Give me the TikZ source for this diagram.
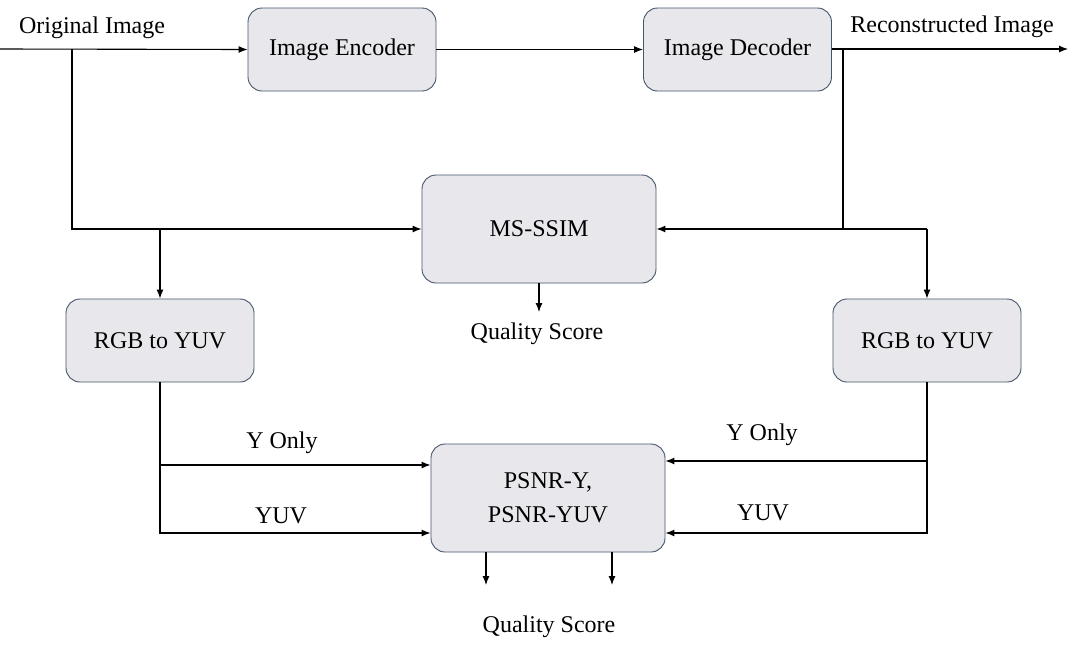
\documentclass[tikz,border=0pt]{standalone}
\usepackage{fontspec}
\setmainfont{Liberation Serif}
\usetikzlibrary{arrows.meta}

\definecolor{boxfill}{RGB}{232,232,236}
\definecolor{boxline}{RGB}{68,84,106}

\tikzset{
  every node/.style={font=\rmfamily\fontsize{24}{34}\selectfont},
  blk/.style={draw=boxline, fill=boxfill, rounded corners=14pt, line width=0.9pt,
              minimum width=188pt, minimum height=83pt, align=center},
  wideblk/.style={blk, minimum width=234pt, minimum height=108pt},
  wire/.style={line width=1.1pt, -{Latex[length=9pt,width=7pt]}},
  plain/.style={line width=1.1pt}
}

\begin{document}
\begin{tikzpicture}[x=1pt,y=-1pt]
\useasboundingbox (0,0) rectangle (1073,646);

% blocks
\node[blk] (enc) at (342,49.5) {Image Encoder};
\node[blk] (dec) at (737.5,49.5) {Image Decoder};
\node[wideblk] (ssim) at (539,229) {MS-SSIM};
\node[blk] (yuvL) at (160,340.5) {RGB to YUV};
\node[blk] (yuvR) at (927,340.5) {RGB to YUV};
\node[wideblk] (psnr) at (548,498) {PSNR-Y,\\PSNR-YUV};

% free ends and branch points
\coordinate (in) at (0,49);
\coordinate (out) at (1068,49);
\coordinate (splitL) at (72,49);
\coordinate (splitR) at (843,49);
\coordinate (tapL) at (160,229);
\coordinate (tapR) at (927,229);
\coordinate (cornR) at (843,229);
\coordinate (q1) at (539,312);
\coordinate (inYL) at ([yshift=33pt]psnr.west);
\coordinate (inUL) at ([yshift=-35pt]psnr.west);
\coordinate (inYR) at ([yshift=37pt]psnr.east);
\coordinate (inUR) at ([yshift=-35pt]psnr.east);
\coordinate (outA) at ([xshift=-62pt]psnr.south);
\coordinate (outB) at ([xshift=64pt]psnr.south);
\coordinate (endA) at (486,585);
\coordinate (endB) at (612,585);

% main path
\draw[wire] (in) -- (enc.west);
\draw[wire] (enc) -- (dec);
\draw[wire] (dec.east |- out) -- (out);
\node (orig) at (92,28) {Original Image};
\node (recon) at (952,27) {Reconstructed Image};

% MS-SSIM
\draw[wire] (splitL) |- (ssim.west);
\draw[wire] (splitR) |- (ssim.east);
\draw[plain] (cornR) -- (tapR);
\draw[wire] (ssim.south) -- (q1);
\node (qs1) at (537,334) {Quality Score};

% to YUV
\draw[wire] (tapL) -- (yuvL.north);
\draw[wire] (tapR) -- (yuvR.north);

% PSNR inputs
\draw[wire] (yuvL.south) |- (inUL);
\draw[wire] (inYL -| yuvL.south) -- (inYL);
\draw[wire] (yuvR.south) |- (inUR);
\draw[wire] (inYR -| yuvR.south) -- (inYR);
\node (yL) at (282,443) {Y Only};
\node (uL) at (281,516) {YUV};
\node (yR) at (762,435) {Y Only};
\node (uR) at (763,513) {YUV};

% PSNR outputs
\draw[wire] (outA) -- (endA);
\draw[wire] (outB) -- (endB);
\node (qs2) at (549,627) {Quality Score};
\end{tikzpicture}
\end{document}
